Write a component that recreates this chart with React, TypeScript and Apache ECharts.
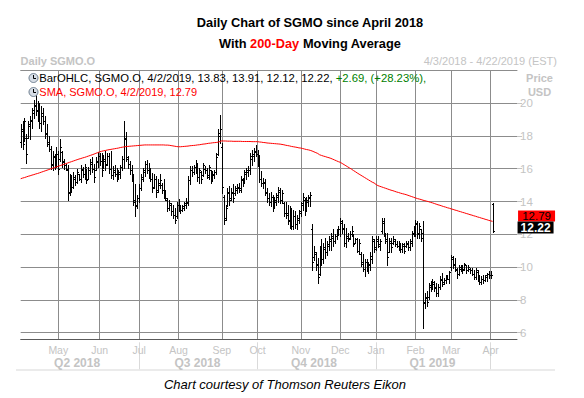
import React, { useEffect, useRef } from 'react';
import * as echarts from 'echarts';

const FONT = '"Liberation Sans", Arial, sans-serif';

// ---------- calendar (trading days) ----------
const HOLIDAYS = [
  '2018-05-28', '2018-07-04', '2018-09-03', '2018-11-22', '2018-12-05',
  '2018-12-25', '2019-01-01', '2019-01-21', '2019-02-18', '2019-04-19',
];
const MONTH_NAMES = ['Jan', 'Feb', 'Mar', 'Apr', 'May', 'Jun', 'Jul', 'Aug', 'Sep', 'Oct', 'Nov', 'Dec'];
const QUARTER_DATES = ['2018-05-15', '2018-08-15', '2018-11-12', '2019-02-14'];
const QUARTER_NAMES = ['Q2 2018', 'Q3 2018', 'Q4 2018', 'Q1 2019'];
const Y_TICKS = [6, 8, 10, 12, 14, 16, 18, 20];

function buildTradingDays(): string[] {
  const out: string[] = [];
  const d = new Date(Date.UTC(2018, 3, 3));
  const end = Date.UTC(2019, 3, 22);
  while (d.getTime() <= end) {
    const wd = d.getUTCDay();
    const s = d.toISOString().slice(0, 10);
    if (wd !== 0 && wd !== 6 && !HOLIDAYS.includes(s)) out.push(s);
    d.setUTCDate(d.getUTCDate() + 1);
  }
  return out;
}
const DATES = buildTradingDays();

// ---------- OHLC values (Apr 3 2018 .. Apr 2 2019) ----------
const OPENS = [
  17.6, 18.3, 17.8, 17.9, 17.9, 18.6, 18.9, 19.4, 19.8, 19.6,
  19.3, 18.8, 19.2, 18.9, 18.2, 17.5, 17.2, 16.2, 16.7, 16.3,
  16.9, 16.6, 17.0, 16.5, 16.2, 15.9, 14.6, 15.2, 14.9, 15.4,
  15.2, 15.7, 15.4, 15.9, 15.7, 15.9, 15.4, 15.9, 16.3, 16.0,
  15.9, 16.4, 16.8, 16.5, 16.1, 16.5, 16.3, 16.8, 16.0, 15.6,
  15.8, 15.7, 15.4, 15.7, 16.1, 16.6, 17.8, 16.6, 16.3, 15.9,
  15.5, 14.1, 13.8, 14.2, 14.8, 15.4, 15.8, 16.3, 15.9, 15.6,
  15.4, 14.9, 15.4, 14.7, 15.0, 15.0, 14.7, 14.4, 14.1, 13.6,
  13.8, 13.4, 13.2, 13.1, 13.8, 13.6, 13.5, 13.6, 13.8, 13.9,
  15.3, 15.9, 15.8, 16.1, 16.2, 15.5, 15.8, 15.6, 16.0, 15.9,
  15.5, 15.9, 15.4, 15.6, 15.8, 16.9, 18.0, 17.3, 14.3, 13.0,
  13.8, 14.5, 14.2, 14.5, 14.5, 14.7, 14.8, 14.8, 15.3, 15.2,
  15.7, 15.8, 15.9, 16.6, 16.8, 17.0, 16.9, 16.5, 15.4, 15.1,
  15.1, 14.5, 14.2, 14.0, 14.3, 13.7, 14.0, 14.3, 14.6, 14.1,
  13.9, 13.3, 13.3, 12.9, 12.6, 12.5, 13.1, 12.6, 12.9, 13.3,
  13.8, 14.1, 13.5, 14.0, 14.2, 12.3, 10.6, 10.8, 10.2, 9.6,
  10.9, 10.5, 11.1, 10.9, 11.3, 11.6, 11.8, 11.6, 11.9, 12.1,
  12.3, 12.7, 12.4, 11.5, 11.8, 11.8, 12.0, 11.9, 11.5, 11.7,
  11.0, 10.8, 10.3, 9.9, 10.3, 9.9, 10.1, 10.5, 11.6, 11.2,
  11.6, 11.3, 12.2, 12.7, 12.0, 11.6, 10.9, 11.5, 11.5, 11.6,
  11.4, 11.3, 11.4, 11.1, 11.3, 11.3, 11.4, 11.2, 11.5, 12.0,
  12.2, 12.6, 12.1, 12.3, 12.1, 7.8, 8.1, 8.2, 8.8, 8.9,
  9.0, 8.8, 8.4, 8.8, 9.2, 9.1, 9.2, 9.4, 9.3, 10.0,
  10.5, 10.2, 9.8, 9.6, 9.9, 10.0, 9.9, 10.1, 9.8, 9.9,
  9.8, 9.6, 9.4, 9.7, 9.3, 9.1, 9.3, 9.2, 9.4, 9.6,
  9.5, 13.83,
];
const HIGHS = [
  18.7, 18.9, 19.1, 18.1, 18.9, 19.2, 19.7, 20.2, 20.6, 20.1,
  20.0, 19.8, 19.7, 19.2, 18.7, 18.0, 17.4, 17.1, 16.9, 17.3,
  17.1, 17.8, 17.1, 16.6, 16.3, 16.2, 15.7, 15.6, 15.8, 15.6,
  16.0, 15.7, 16.2, 16.1, 16.3, 16.0, 16.1, 16.6, 16.7, 16.3,
  16.7, 17.0, 16.95, 16.95, 16.85, 17.05, 16.95, 16.95, 17.05, 16.15,
  16.25, 16.05, 15.95, 16.25, 16.75, 18.9, 18.25, 16.75, 16.45, 16.25,
  15.65, 15.05, 14.4, 15.05, 15.65, 16.05, 16.45, 16.55, 16.35, 16.05,
  15.75, 15.65, 15.55, 15.35, 15.65, 15.15, 15.35, 14.7, 14.2, 14.1,
  13.9, 13.8, 13.6, 14.0, 14.15, 13.8, 13.8, 14.0, 14.2, 15.55,
  16.15, 16.15, 16.25, 16.55, 16.35, 16.05, 15.85, 16.35, 16.15, 16.05,
  16.25, 15.95, 15.85, 15.95, 16.95, 18.4, 19.3, 17.55, 14.4, 13.8,
  14.85, 14.95, 14.85, 15.05, 14.95, 15.05, 15.15, 15.55, 15.45, 15.95,
  16.05, 16.15, 16.95, 17.15, 17.25, 17.45, 17.15, 16.85, 15.85, 15.45,
  15.35, 14.8, 14.5, 14.6, 14.4, 14.3, 14.5, 14.9, 14.8, 14.7,
  14.0, 14.0, 13.8, 13.7, 13.6, 13.5, 13.4, 13.2, 13.5, 14.0,
  14.5, 14.2, 14.3, 14.4, 14.6, 12.6, 11.3, 10.9, 10.55, 11.3,
  11.7, 11.5, 11.8, 11.6, 11.9, 12.1, 12.3, 12.0, 12.3, 12.5,
  13.0, 12.9, 12.6, 12.4, 12.1, 12.2, 12.5, 12.0, 11.8, 11.8,
  11.7, 10.9, 10.8, 10.5, 10.5, 10.3, 10.9, 11.9, 11.7, 11.9,
  11.9, 11.7, 13.0, 13.0, 12.1, 12.1, 11.8, 11.8, 11.9, 11.7,
  11.6, 11.6, 11.5, 11.5, 11.5, 11.6, 11.6, 11.7, 12.2, 12.5,
  12.9, 12.8, 12.7, 12.3, 12.8, 8.45, 8.55, 9.05, 9.15, 9.25,
  9.15, 9.05, 8.95, 9.45, 9.65, 9.35, 9.55, 9.55, 9.75, 10.75,
  10.65, 10.55, 9.95, 10.15, 10.15, 10.15, 10.25, 10.15, 10.15, 9.95,
  9.95, 9.85, 9.95, 9.85, 9.55, 9.45, 9.55, 9.55, 9.65, 9.75,
  9.75, 13.91,
];
const LOWS = [
  17.3, 17.2, 17.7, 16.35, 17.9, 17.8, 18.5, 19.1, 19.3, 18.9,
  18.5, 18.3, 18.7, 17.9, 17.4, 17.1, 16.0, 15.9, 16.0, 16.1,
  15.7, 16.5, 16.1, 16.0, 15.9, 14.1, 14.4, 14.6, 14.8, 15.0,
  15.1, 15.3, 15.2, 15.5, 15.4, 15.1, 15.4, 15.7, 15.8, 15.2,
  15.9, 16.1, 16.25, 15.55, 16.05, 15.95, 16.25, 15.75, 15.45, 15.35,
  15.55, 15.25, 15.35, 15.45, 15.95, 16.05, 16.45, 16.05, 15.65, 15.25,
  13.8, 13.1, 13.6, 14.0, 14.7, 15.25, 15.55, 15.75, 15.45, 15.25,
  14.6, 14.85, 14.3, 14.6, 14.85, 14.5, 14.2, 14.1, 13.4, 13.5,
  13.2, 13.0, 12.7, 13.0, 13.45, 13.3, 13.4, 13.5, 13.6, 13.8,
  15.05, 15.55, 15.65, 15.75, 15.25, 15.15, 15.15, 15.55, 15.75, 15.45,
  15.35, 15.15, 15.25, 15.45, 15.65, 16.85, 17.55, 14.5, 12.6, 12.9,
  13.7, 13.8, 14.1, 14.0, 14.4, 14.5, 14.6, 14.6, 14.95, 15.15,
  15.35, 15.55, 15.65, 16.25, 16.45, 16.75, 16.15, 15.2, 14.95, 14.8,
  14.4, 14.0, 13.8, 13.7, 13.4, 13.6, 13.8, 14.0, 13.9, 13.9,
  13.1, 13.0, 12.6, 12.4, 12.3, 12.3, 12.4, 12.3, 12.7, 13.1,
  13.5, 13.2, 13.4, 13.7, 13.7, 9.85, 10.45, 9.85, 9.05, 9.55,
  10.15, 10.25, 10.55, 10.75, 11.05, 11.05, 11.3, 11.5, 11.7, 11.95,
  11.9, 12.1, 11.3, 11.2, 11.6, 11.7, 11.9, 11.3, 11.5, 10.9,
  10.8, 10.05, 9.75, 9.45, 9.75, 9.65, 9.85, 10.25, 10.9, 11.05,
  11.2, 11.05, 12.1, 11.9, 11.5, 10.15, 10.9, 10.95, 11.4, 11.3,
  11.2, 11.05, 10.95, 10.95, 10.85, 11.2, 11.05, 11.05, 11.3, 11.9,
  11.9, 11.8, 11.8, 11.6, 6.3, 7.5, 7.6, 8.05, 8.55, 8.65,
  8.55, 8.25, 8.25, 8.65, 8.85, 8.95, 9.05, 9.25, 9.05, 9.85,
  9.95, 9.75, 9.35, 9.55, 9.75, 9.65, 9.85, 9.65, 9.75, 9.65,
  9.55, 9.25, 9.25, 9.15, 8.95, 8.95, 9.05, 9.15, 9.15, 9.35,
  9.35, 12.12,
];
const CLOSES = [
  18.4, 17.5, 18.9, 16.9, 18.7, 19.0, 19.6, 19.9, 19.5, 19.2,
  18.8, 19.4, 18.9, 18.1, 17.6, 17.2, 16.3, 16.8, 16.4, 16.9,
  16.0, 17.3, 16.4, 16.2, 16.0, 14.5, 15.3, 14.9, 15.5, 15.2,
  15.8, 15.4, 16.0, 15.7, 16.1, 15.3, 15.9, 16.4, 16.0, 15.5,
  16.5, 16.8, 16.5, 15.9, 16.6, 16.2, 16.8, 16.0, 15.6, 15.9,
  15.7, 15.4, 15.8, 16.1, 16.6, 17.9, 16.7, 16.3, 15.9, 15.5,
  14.0, 13.7, 14.2, 14.8, 15.5, 15.9, 16.3, 15.9, 15.6, 15.4,
  14.8, 15.4, 14.6, 15.1, 15.3, 14.7, 14.4, 14.2, 13.6, 13.9,
  13.4, 13.2, 12.9, 13.8, 13.6, 13.5, 13.7, 13.9, 14.0, 15.3,
  15.9, 15.8, 16.1, 16.3, 15.5, 15.9, 15.4, 16.2, 15.9, 15.6,
  16.1, 15.4, 15.7, 15.8, 16.7, 18.2, 18.4, 14.9, 12.9, 13.6,
  14.6, 14.1, 14.6, 14.2, 14.8, 14.9, 14.7, 15.4, 15.1, 15.8,
  15.9, 15.9, 16.8, 16.9, 17.1, 16.9, 16.4, 15.4, 15.1, 15.2,
  14.6, 14.2, 14.0, 14.3, 13.6, 14.1, 14.4, 14.7, 14.1, 14.5,
  13.3, 13.2, 12.8, 12.6, 12.5, 13.1, 12.6, 13.0, 13.4, 13.9,
  14.3, 13.5, 14.1, 14.3, 14.4, 10.3, 10.9, 10.1, 9.4, 11.0,
  10.5, 11.2, 10.9, 11.4, 11.7, 11.9, 11.6, 11.9, 12.1, 12.3,
  12.8, 12.3, 11.5, 11.9, 11.7, 12.0, 12.2, 11.4, 11.7, 11.0,
  11.5, 10.2, 9.9, 10.3, 9.9, 10.2, 10.7, 11.7, 11.1, 11.7,
  11.4, 11.6, 12.8, 12.0, 11.7, 10.6, 11.6, 11.2, 11.7, 11.4,
  11.3, 11.5, 11.1, 11.4, 11.0, 11.5, 11.2, 11.6, 12.1, 12.3,
  12.7, 12.0, 12.5, 11.8, 7.9, 8.2, 7.9, 8.9, 8.9, 9.1,
  8.7, 8.4, 8.8, 9.3, 9.0, 9.2, 9.4, 9.3, 9.7, 10.6,
  10.1, 9.9, 9.6, 10.0, 10.1, 9.8, 10.2, 9.8, 10.0, 9.8,
  9.6, 9.4, 9.8, 9.3, 9.1, 9.3, 9.2, 9.5, 9.6, 9.5,
  9.53, 12.22,
];
// 200-day simple moving average
const SMA200 = [
  15.39, 15.43, 15.46, 15.50, 15.54, 15.57, 15.61, 15.64, 15.68, 15.71,
  15.75, 15.79, 15.83, 15.87, 15.91, 15.95, 15.99, 16.03, 16.07, 16.11,
  16.15, 16.19, 16.23, 16.27, 16.31, 16.35, 16.39, 16.43, 16.47, 16.51,
  16.55, 16.59, 16.62, 16.66, 16.69, 16.73, 16.77, 16.81, 16.85, 16.89,
  16.94, 16.98, 17.03, 17.06, 17.09, 17.11, 17.14, 17.16, 17.18, 17.20,
  17.22, 17.24, 17.26, 17.29, 17.31, 17.33, 17.35, 17.36, 17.37, 17.38,
  17.39, 17.40, 17.41, 17.42, 17.43, 17.44, 17.45, 17.45, 17.45, 17.45,
  17.45, 17.45, 17.45, 17.45, 17.45, 17.45, 17.45, 17.44, 17.44, 17.43,
  17.41, 17.39, 17.37, 17.35, 17.34, 17.34, 17.35, 17.36, 17.37, 17.38,
  17.40, 17.41, 17.42, 17.43, 17.45, 17.46, 17.48, 17.50, 17.51, 17.53,
  17.55, 17.56, 17.58, 17.59, 17.60, 17.62, 17.66, 17.70, 17.69, 17.69,
  17.68, 17.68, 17.68, 17.67, 17.67, 17.67, 17.67, 17.67, 17.66, 17.66,
  17.66, 17.66, 17.66, 17.65, 17.65, 17.65, 17.65, 17.63, 17.62, 17.60,
  17.59, 17.57, 17.56, 17.55, 17.54, 17.53, 17.52, 17.51, 17.50, 17.48,
  17.46, 17.43, 17.41, 17.39, 17.36, 17.34, 17.32, 17.30, 17.27, 17.26,
  17.23, 17.20, 17.17, 17.15, 17.12, 17.08, 17.03, 16.98, 16.93, 16.85,
  16.81, 16.77, 16.74, 16.70, 16.67, 16.63, 16.58, 16.53, 16.48, 16.43,
  16.39, 16.32, 16.25, 16.18, 16.11, 16.04, 15.97, 15.89, 15.82, 15.74,
  15.67, 15.60, 15.53, 15.46, 15.39, 15.32, 15.25, 15.18, 15.13, 15.04,
  14.97, 14.93, 14.89, 14.85, 14.81, 14.77, 14.73, 14.69, 14.66, 14.62,
  14.58, 14.55, 14.51, 14.48, 14.45, 14.42, 14.38, 14.34, 14.30, 14.26,
  14.22, 14.18, 14.15, 14.12, 14.08, 14.05, 14.02, 13.99, 13.95, 13.92,
  13.88, 13.84, 13.80, 13.77, 13.73, 13.69, 13.66, 13.62, 13.59, 13.55,
  13.52, 13.48, 13.45, 13.41, 13.38, 13.34, 13.31, 13.27, 13.24, 13.20,
  13.17, 13.13, 13.10, 13.06, 13.03, 12.99, 12.96, 12.92, 12.89, 12.85,
  12.82, 12.79,
];
const LAST_SMA = 12.79;
const LAST_CLOSE = 12.22;

// month / quarter helpers (from the calendar)
const monthStarts = new Set<number>();
const quarterStarts = new Set<number>();
DATES.forEach((d, i) => {
  if (i > 0 && d.slice(5, 7) !== DATES[i - 1].slice(5, 7)) {
    monthStarts.add(i);
    const m = Number(d.slice(5, 7)) - 1;
    if (m % 3 === 0) quarterStarts.add(i);
  }
});
const quarterLabelIdx = new Map<number, string>();
QUARTER_DATES.forEach((d, k) => quarterLabelIdx.set(DATES.indexOf(d), QUARTER_NAMES[k]));

const GRID = '#8c8c8c';
const LIGHT = '#c4c4c4';

function buildOption(): any {
  const ohlc = HIGHS.map((h, i) => [i, OPENS[i], h, LOWS[i], CLOSES[i]]);
  const lastCat = DATES[CLOSES.length - 1];
  return {
    animation: false,
    backgroundColor: '#ffffff',
    grid: { left: 20.7, right: 67, top: 70.3, bottom: 58.7, containLabel: false, outerBoundsMode: 'none' },
    xAxis: [
      {
        type: 'category', data: DATES, boundaryGap: false, position: 'bottom',
        axisLine: { show: true, lineStyle: { color: '#5a5a5a', width: 1 } },
        axisTick: { show: false },
        axisLabel: {
          interval: (i: number) => monthStarts.has(i),
          formatter: (v: string) => MONTH_NAMES[Number(v.slice(5, 7)) - 1],
          color: LIGHT, fontSize: 10.5, fontFamily: FONT, margin: 5, hideOverlap: false,
        },
        splitLine: { show: true, interval: (i: number) => monthStarts.has(i), lineStyle: { color: GRID, width: 1 } },
      },
      {
        type: 'category', data: DATES, boundaryGap: false, position: 'top',
        axisLine: { show: true, lineStyle: { color: GRID, width: 1 } },
        axisTick: { show: false }, axisLabel: { show: false }, splitLine: { show: false },
      },
      {
        type: 'category', data: DATES, boundaryGap: false, position: 'bottom', offset: 3,
        axisLine: { show: false },
        axisTick: { show: true, interval: (i: number) => quarterStarts.has(i), length: 27, lineStyle: { color: '#dadada', width: 1 } },
        axisLabel: {
          interval: (i: number) => quarterLabelIdx.has(i),
          formatter: (_v: string, i: number) => quarterLabelIdx.get(i) || '',
          color: LIGHT, fontSize: 12, fontWeight: 'bold', fontFamily: FONT, margin: 15, hideOverlap: false,
        },
        splitLine: { show: false },
      },
    ],
    yAxis: {
      type: 'value', position: 'right', min: 5.6, max: 22, minInterval: 2, maxInterval: 2, splitNumber: 8,
      axisLine: { show: false },
      axisTick: { show: true, length: 5, customValues: Y_TICKS, lineStyle: { color: LIGHT } },
      axisLabel: {
        customValues: Y_TICKS,
        formatter: (v: number) => (Y_TICKS.includes(v) ? String(v) : ''),
        color: LIGHT, fontSize: 11.5, fontFamily: FONT, margin: 3,
      },
      splitLine: { show: true, lineStyle: { color: GRID, width: 1 } },
    },
    series: [
      {
        type: 'custom', name: 'BarOHLC', xAxisIndex: 0, yAxisIndex: 0,
        data: ohlc, encode: { x: 0, y: [1, 2, 3, 4] },
        renderItem: (_p: any, api: any) => {
          const idx = api.value(0);
          const ph = api.coord([idx, api.value(2)]);
          const pl = api.coord([idx, api.value(3)]);
          const po = api.coord([idx, api.value(1)]);
          const pc = api.coord([idx, api.value(4)]);
          const x = Math.round(ph[0]) + 0.5;
          const yo = Math.round(po[1]) + 0.5;
          const yc = Math.round(pc[1]) + 0.5;
          const st = { stroke: '#000', lineWidth: 1 };
          return {
            type: 'group',
            children: [
              { type: 'line', shape: { x1: x, y1: Math.round(ph[1]), x2: x, y2: Math.round(pl[1]) + 1 }, style: st },
              { type: 'line', shape: { x1: x - 1.5, y1: yo, x2: x, y2: yo }, style: st },
              { type: 'line', shape: { x1: x, y1: yc, x2: x + 1.5, y2: yc }, style: st },
            ],
          };
        },
        z: 2,
      },
      {
        type: 'line', name: 'SMA', data: SMA200, showSymbol: false, symbol: 'none',
        lineStyle: { color: '#ff0000', width: 1 }, z: 3,
        markPoint: {
          symbol: 'rect',
          data: [
            {
              coord: [lastCat, LAST_SMA], symbol: 'rect', symbolSize: [37, 11], symbolOffset: [44, -5.3],
              itemStyle: { color: '#ff0000' },
              label: { show: true, position: 'inside', formatter: String(LAST_SMA), color: '#000', fontSize: 11.5, fontFamily: FONT },
            },
            {
              coord: [lastCat, LAST_CLOSE], symbol: 'rect', symbolSize: [36, 12], symbolOffset: [43, -3.1],
              itemStyle: { color: '#000000' },
              label: { show: true, position: 'inside', formatter: LAST_CLOSE.toFixed(2), color: '#fff', fontWeight: 'bold', fontSize: 12, fontFamily: FONT },
            },
          ],
        },
      },
    ],
    graphic: [
      {
        type: 'text', x: 310, y: 22,
        style: { text: 'Daily Chart of SGMO since April 2018', font: `bold 12.8px ${FONT}`, fill: '#000', align: 'center', verticalAlign: 'middle' },
      },
      {
        type: 'text', x: 310, y: 43,
        style: {
          text: 'With {r|200-Day} Moving Average', font: `bold 12.8px ${FONT}`, fill: '#000', align: 'center', verticalAlign: 'middle',
          rich: { r: { fill: '#ff0000', font: `bold 12.8px ${FONT}` } },
        },
      },
      {
        type: 'text', x: 20.6, y: 61,
        style: { text: 'Daily SGMO.O', font: `bold 11px ${FONT}`, fill: LIGHT, align: 'left', verticalAlign: 'middle' },
      },
      {
        type: 'text', x: 557, y: 61,
        style: { text: '4/3/2018 - 4/22/2019 (EST)', font: `11px ${FONT}`, fill: LIGHT, align: 'right', verticalAlign: 'middle' },
      },
      {
        type: 'text', x: 539.5, y: 78,
        style: { text: 'Price', font: `bold 11px ${FONT}`, fill: LIGHT, align: 'center', verticalAlign: 'middle' },
      },
      {
        type: 'text', x: 539.5, y: 92,
        style: { text: 'USD', font: `bold 11px ${FONT}`, fill: LIGHT, align: 'center', verticalAlign: 'middle' },
      },
      // legend icons
      { type: 'circle', shape: { cx: 33.5, cy: 78, r: 4.5 }, style: { fill: '#d6dde6', stroke: '#6f7f90', lineWidth: 1 }, z: 10 },
      { type: 'polyline', shape: { points: [[33.5, 75], [33.5, 78.5], [36, 78.5]] }, style: { stroke: '#000', lineWidth: 1, fill: 'none' }, z: 11 },
      { type: 'circle', shape: { cx: 33.5, cy: 92, r: 4.5 }, style: { fill: '#d6dde6', stroke: '#6f7f90', lineWidth: 1 }, z: 10 },
      { type: 'polyline', shape: { points: [[33.5, 89], [33.5, 92.5], [36, 92.5]] }, style: { stroke: '#000', lineWidth: 1, fill: 'none' }, z: 11 },
      {
        type: 'text', x: 39.3, y: 78, z: 10,
        style: {
          text: 'BarOHLC, SGMO.O, 4/2/2019, 13.83, 13.91, 12.12, 12.22, {g|+2.69, (+28.23%),}',
          font: `11.3px ${FONT}`, fill: '#000', align: 'left', verticalAlign: 'middle',
          rich: { g: { fill: '#008000', font: `11.3px ${FONT}` } },
        },
      },
      {
        type: 'text', x: 39.3, y: 92, z: 10,
        style: { text: 'SMA, SGMO.O, 4/2/2019, 12.79', font: `11px ${FONT}`, fill: '#ff0000', align: 'left', verticalAlign: 'middle' },
      },
      // bottom band
      { type: 'rect', shape: { x: 16, y: 369, width: 539, height: 2 }, style: { fill: '#ebebeb' } },
      {
        type: 'text', x: 285, y: 384,
        style: { text: 'Chart courtesy of Thomson Reuters Eikon', font: `italic 13px ${FONT}`, fill: '#000', align: 'center', verticalAlign: 'middle' },
      },
    ],
  };
}

export default function App() {
  const ref = useRef<HTMLDivElement>(null);
  useEffect(() => {
    if (!ref.current) return;
    const chart = echarts.init(ref.current, null, { renderer: 'svg' });
    chart.setOption(buildOption());
    return () => chart.dispose();
  }, []);
  return (
    <div style={{ position: 'fixed', left: 0, top: 0, width: 584, height: 398, background: '#fff' }}>
      <div ref={ref} style={{ width: 584, height: 398 }} />
    </div>
  );
}
